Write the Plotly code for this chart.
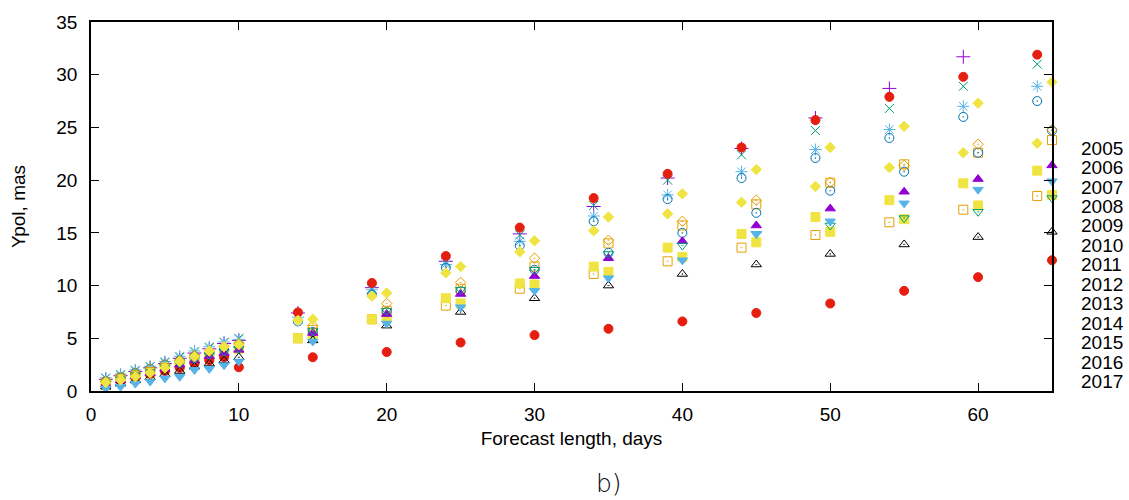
import plotly.graph_objects as go

# ---------------- data ----------------
YEARS = ["2005", "2006", "2007", "2008", "2009", "2010", "2011",
         "2012", "2013", "2014", "2015", "2016", "2017"]

DAILY = [1, 2, 3, 4, 5, 6, 7, 8, 9, 10]
LEAD_A = [14, 19, 24, 29, 34, 39, 44, 49, 54, 59, 64]
LEAD_B = [15, 20, 25, 30, 35, 40, 45, 50, 55, 60, 65]

# daily values (days 1..10)
D_2005 = [1.1, 1.45, 1.85, 2.2, 2.6, 3.1, 3.6, 4.0, 4.5, 4.8]
D_2006 = [1.2, 1.5, 1.9, 2.3, 2.7, 3.2, 3.7, 4.1, 4.6, 5.0]
D_2007 = [1.25, 1.6, 2.0, 2.35, 2.8, 3.3, 3.8, 4.2, 4.65, 4.9]
D_2008 = [0.8, 1.2, 1.5, 1.8, 2.2, 2.6, 3.0, 3.4, 3.8, 4.2]
D_2009 = [0.7, 1.1, 1.4, 1.7, 2.1, 2.5, 2.9, 3.3, 3.7, 4.0]
D_2010 = [0.9, 1.3, 1.7, 2.1, 2.5, 2.9, 3.3, 3.7, 4.1, 4.4]
D_2011 = [0.6, 0.95, 1.3, 1.6, 1.9, 2.2, 2.6, 2.9, 3.2, 2.25]
D_2012 = [0.4, 0.7, 1.0, 1.3, 1.6, 1.9, 2.3, 2.6, 2.9, 3.2]
D_2013 = [0.6, 1.0, 1.4, 1.7, 2.1, 2.5, 2.9, 3.3, 3.6, 3.9]
D_2014 = [0.7, 1.1, 1.5, 1.8, 2.2, 2.6, 3.0, 3.4, 3.7, 4.0]
D_2015 = [0.25, 0.4, 0.7, 0.9, 1.2, 1.35, 2.0, 2.1, 2.45, 2.8]
D_2016 = [0.9, 1.3, 1.7, 2.1, 2.5, 2.9, 3.4, 3.8, 4.2, 4.5]
D_2017 = [0.8, 1.05, 1.35, 1.7, 2.2, 2.8, 3.25, 3.8, 4.2, 4.4]

# values at LEAD_A days (None = not shown)
A_2005 = [7.4, 9.8, 12.3, 14.9, 17.5, 20.2, 23.0, 25.9, 28.7, 31.7, None]
A_2006 = [7.1, 9.7, 12.2, 14.8, 17.6, 20.0, 22.4, 24.7, 26.8, 28.9, 31.0]
A_2007 = [7.0, 9.6, 12.0, 14.2, 16.6, 18.6, 20.8, 22.9, 24.8, 27.0, 28.9]
A_2008 = [5.0, 6.8, 8.1, 9.7, 11.1, 12.3, 13.6, 14.8, 16.0, 17.2, 18.5]
A_2009 = [5.0, 6.8, 8.8, 10.2, 11.8, 13.6, 14.9, 16.5, 18.1, 19.7, 20.9]
A_2010 = [6.6, 9.15, 11.7, 13.8, 16.1, 18.2, 20.2, 22.1, 24.0, 26.0, 27.5]
A_2011 = [7.45, 10.25, 12.8, 15.5, 18.3, 20.6, 23.1, 25.7, 27.9, 29.8, 31.9]
A_2017 = [6.7, 9.0, 11.2, 13.2, 15.2, 16.8, 17.9, 19.4, 21.2, 22.6, 23.5]

# values at LEAD_B days
B_2008 = [5.8, 7.6, 9.7, 11.8, 14.0, 15.7, 17.7, 19.75, 21.5, 22.6, 23.8]
B_2009 = [5.3, 7.0, 8.3, 10.1, 11.3, 12.7, 14.1, 15.1, 16.3, 17.6, 18.6]
B_2010 = [5.6, 7.5, 9.5, 11.5, 13.1, 15.0, 16.9, 19.0, 20.8, 22.6, 24.7]
B_2011 = [3.2, 3.7, 4.6, 5.3, 5.9, 6.6, 7.4, 8.3, 9.5, 10.8, 12.4]
B_2012 = [4.8, 6.2, 7.5, 8.8, 10.0, 11.1, 12.0, 13.0, 13.9, 14.6, 15.1]
B_2013 = [5.5, 7.3, 9.2, 10.9, 12.6, 14.2, 15.7, 17.3, 18.9, 20.1, 21.4]
B_2014 = [5.7, 7.6, 9.6, 11.5, 13.0, 13.8, 14.9, 15.7, 16.4, 17.0, 18.3]
B_2015 = [4.7, 6.4, 7.95, 9.5, 10.7, 12.4, 14.9, 16.1, 17.8, 19.1, 19.9]
B_2016 = [6.2, 8.3, 10.3, 12.6, 14.3, 16.1, 18.1, 19.8, 21.4, 23.4, 24.8]
B_2017 = [6.8, 9.3, 11.8, 14.25, 16.5, 18.7, 21.0, 23.1, 25.1, 27.3, 29.3]

SERIES = [
    ("2005", D_2005, A_2005, None),
    ("2006", D_2006, A_2006, None),
    ("2007", D_2007, A_2007, None),
    ("2008", D_2008, A_2008, B_2008),
    ("2009", D_2009, A_2009, B_2009),
    ("2010", D_2010, A_2010, B_2010),
    ("2011", D_2011, A_2011, B_2011),
    ("2012", D_2012, None, B_2012),
    ("2013", D_2013, None, B_2013),
    ("2014", D_2014, None, B_2014),
    ("2015", D_2015, None, B_2015),
    ("2016", D_2016, None, B_2016),
    ("2017", D_2017, A_2017, B_2017),
]

# ---------------- styles (gnuplot-like) ----------------
STYLES = {
    "2005": dict(symbol="cross-thin-open", color="#9400d3", size=10),
    "2006": dict(symbol="x-thin-open", color="#009e73", size=9),
    "2007": dict(symbol="asterisk-open", color="#56b4e9", size=10),
    "2008": dict(symbol="square-open-dot", color="#e69f00", size=9),
    "2009": dict(symbol="square", color="#f0e442", size=9),
    "2010": dict(symbol="circle-open-dot", color="#0072b2", size=9),
    "2011": dict(symbol="circle", color="#e51e10", size=9),
    "2012": dict(symbol="triangle-up-open-dot", color="#000000", size=9),
    "2013": dict(symbol="triangle-up", color="#9400d3", size=9),
    "2014": dict(symbol="triangle-down-open-dot", color="#009e73", size=9),
    "2015": dict(symbol="triangle-down", color="#56b4e9", size=9),
    "2016": dict(symbol="diamond-open-dot", color="#e69f00", size=8),
    "2017": dict(symbol="diamond", color="#f0e442", size=8),
}

FONT = "Liberation Sans, Arial, sans-serif"
FS = 19

fig = go.Figure()
for name, d, a, b in SERIES:
    xs, ys = list(DAILY), list(d)
    if a is not None:
        xs += LEAD_A
        ys += a
    if b is not None:
        xs += LEAD_B
        ys += b
    st = STYLES[name]
    fig.add_trace(go.Scatter(
        x=xs, y=ys, mode="markers", name=name, showlegend=False,
        cliponaxis=False,
        marker=dict(symbol=st["symbol"], color=st["color"], size=st["size"],
                    line=dict(color=st["color"], width=1.0)),
    ))

# plot area geometry (px)
W, H = 1129, 500
ML, MR, MT, MB = 91, 77, 19.5, 108.5
PH = H - MT - MB

annotations = []
for i, name in enumerate(YEARS):
    py = 146.7 + 19.6 * i
    annotations.append(dict(
        text=name, xref="paper", yref="paper",
        x=(1079 - ML) / (W - ML - MR), y=(H - MB - py) / PH,
        xanchor="left", yanchor="middle", showarrow=False,
        font=dict(family=FONT, size=FS, color="black")))
annotations.append(dict(
    text="b)", xref="paper", yref="paper",
    x=(609 - ML) / (W - ML - MR), y=(H - MB - 485) / PH,
    xanchor="center", yanchor="middle", showarrow=False,
    font=dict(family="DejaVu Sans, sans-serif", size=25, color="black", weight=200)))

axis_common = dict(
    showline=True, linecolor="black", linewidth=1.5, mirror="allticks",
    ticks="inside", ticklen=8, tickwidth=1, tickcolor="black",
    showgrid=False, zeroline=False,
    tickfont=dict(family=FONT, size=FS, color="black"),
)

fig.update_layout(
    width=W, height=H,
    margin=dict(l=ML, r=MR, t=MT, b=MB),
    paper_bgcolor="white", plot_bgcolor="white",
    xaxis=dict(range=[0, 65], tickvals=[0, 10, 20, 30, 40, 50, 60],
               ticklabelstandoff=5,
               title=dict(text="Forecast length, days", standoff=8,
                          font=dict(family=FONT, size=FS, color="black")),
               **axis_common),
    yaxis=dict(range=[0, 35], tickvals=[0, 5, 10, 15, 20, 25, 30, 35],
               ticklabelstandoff=8,
               title=dict(text="Ypol, mas", standoff=26,
                          font=dict(family=FONT, size=FS, color="black")),
               **axis_common),
    annotations=annotations,
)

fig.write_html("out.html")
